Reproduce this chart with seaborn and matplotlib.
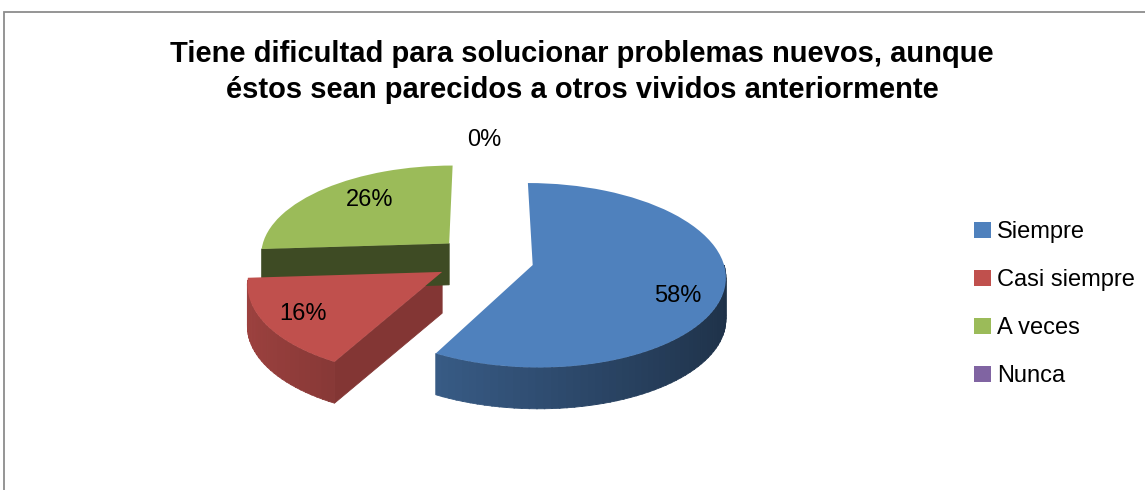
import numpy as np
import seaborn as sns
import matplotlib.pyplot as plt
import matplotlib.transforms as mtransforms
from matplotlib.patches import Patch, Polygon, Rectangle
from matplotlib.colors import to_rgb

categories = ["Siempre", "Casi siempre", "A veces", "Nunca"]
values = [58, 16, 26, 0]
colors = ["#4F81BD", "#C0504D", "#9BBB59", "#8064A2"]
title = "Tiene dificultad para solucionar problemas nuevos, aunque\néstos sean parecidos a otros vividos anteriormente"

sns.set_theme(style="white")
plt.rcParams['font.family'] = ['Liberation Sans', 'DejaVu Sans']


class Persp(mtransforms.Transform):
    """simple perspective: things further back (higher y) get smaller"""
    input_dims = output_dims = 2

    def __init__(self, k):
        super().__init__()
        self.k = k

    def transform_non_affine(self, v):
        v = np.asarray(v, dtype=float)
        return v / (1 + self.k * v[:, 1:2])

    def inverted(self):
        k = self.k

        class Inv(mtransforms.Transform):
            input_dims = output_dims = 2

            def transform_non_affine(self, v):
                v = np.asarray(v, dtype=float)
                return v / (1 - k * v[:, 1:2])
        return Inv()


W, H = 1145, 490
fig = plt.figure(figsize=(W / 100, H / 100), dpi=100)
ax = fig.add_axes([0, 0, 1, 1])

explode = [0.26] * len(values)
wedges, texts, autotexts = ax.pie(
    values, colors=colors, explode=explode, startangle=90, counterclock=False,
    autopct='%1.0f%%', pctdistance=0.8, wedgeprops=dict(linewidth=0),
    textprops=dict(fontsize=17, color='black'),
)

cx, cy, rx, ry = 484.5, 259.2, 190.0, 89.8
ax.set_aspect('auto')
ax.set_xlim(-cx / rx, (W - cx) / rx)
ax.set_ylim((cy - H) / ry, cy / ry)
ax.axis('off')

persp = Persp(0.11)
tr = persp + ax.transData
for w in wedges:
    w.set_transform(tr)
for t in autotexts:
    t.set_transform(tr)

depth = 0.46  # thickness of the pie, in screen y units
radial_shade = {"Casi siempre": 0.68, "A veces": 0.40, "Siempre": 0.45}
label_place = {"Siempre": (0.79, -10), "Casi siempre": (0.8, 0), "A veces": (0.71, -6), "Nunca": (1.3, 0)}


def shade(c, f):
    r, g, b = to_rgb(c)
    return (r * f, g * f, b * f)


def side(pts, color, z):
    top = persp.transform(np.asarray(pts))
    bot = top[::-1] - [0, depth]
    ax.add_patch(Polygon(np.vstack([top, bot]), closed=True, facecolor=color,
                         edgecolor=color, linewidth=0.6, zorder=z))


for w, name, col in zip(wedges, categories, colors):
    if w.theta2 - w.theta1 <= 0:
        continue
    x0, y0 = w.center
    t1 = w.theta1 % 360
    t2 = t1 + (w.theta2 - w.theta1)
    # outer curved side, front facing part
    for lo, hi in [(185, 360), (545, 720)]:
        a, b = max(t1, lo), min(t2, hi)
        if a >= b:
            continue
        n = max(int((b - a) / 2), 2)
        edges = np.linspace(a, b, n + 1)
        for s, e in zip(edges[:-1], edges[1:]):
            th = np.radians(np.linspace(s, min(e + 0.3, b), 4))
            f = 0.6 - 0.22 * np.cos(np.radians((s + e) / 2))
            side(np.column_stack([x0 + np.cos(th), y0 + np.sin(th)]), shade(col, f), 0.5)
    # radial faces
    for t, vis in [(t1, np.cos(np.radians(t1)) > 0.01), (t2, np.cos(np.radians(t2)) < -0.01)]:
        if not vis:
            continue
        ex, ey = x0 + np.cos(np.radians(t)), y0 + np.sin(np.radians(t))
        side([(x0, y0), (ex, ey)], shade(col, radial_shade[name]), 0.4)

# label placement along each slice
for w, t, name in zip(wedges, autotexts, categories):
    dist, dang = label_place[name]
    ang = np.radians((w.theta1 + w.theta2) / 2 + dang)
    t.set_position((w.center[0] + dist * np.cos(ang), w.center[1] + dist * np.sin(ang)))

fig.text(582 / W, 1 - 72 / H, title, ha='center', va='center', fontsize=21,
         fontweight='bold', color='black', linespacing=1.38)

handles = [Patch(facecolor=c, edgecolor='none', label=l) for c, l in zip(colors, categories)]
fig.legend(handles=handles, loc='upper left', bbox_to_anchor=(965 / W, 1 - 212 / H),
           frameon=False, fontsize=17, handlelength=0.7, handleheight=0.7,
           handletextpad=0.25, labelspacing=1.1, borderaxespad=0, labelcolor='black')

fig.add_artist(Rectangle((4 / W, -0.1), 1.2, (H - 12) / H + 0.1, transform=fig.transFigure,
                         fill=False, edgecolor='#8c8c8c', linewidth=1.3))

fig.savefig("out.png", dpi=100)
